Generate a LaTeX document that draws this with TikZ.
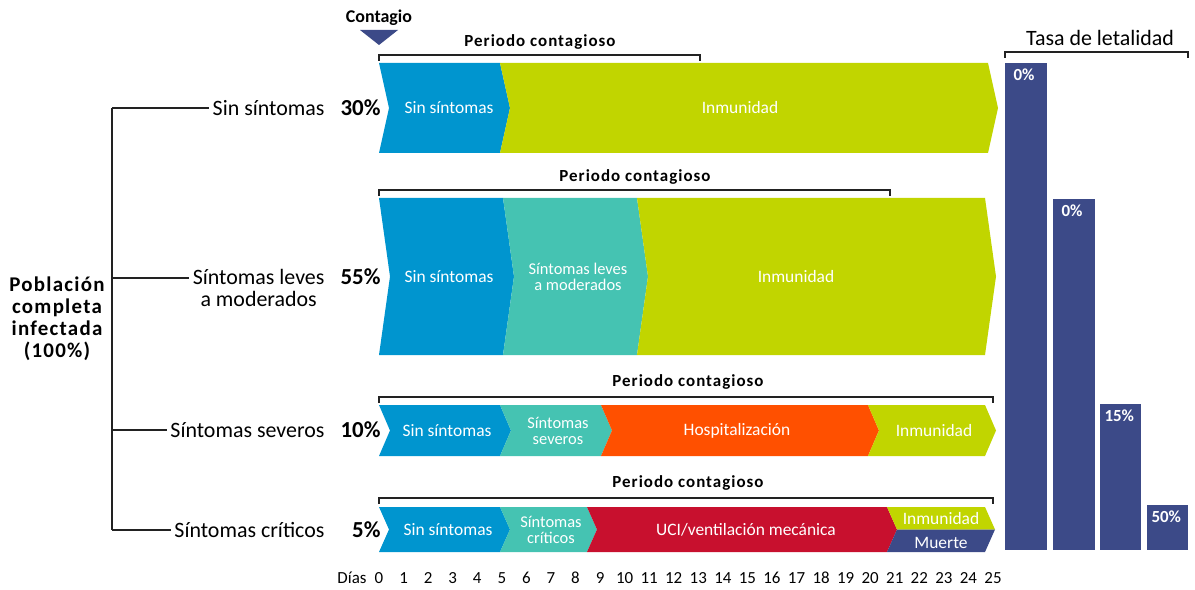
\documentclass[tikz,border=0pt]{standalone}
\usepackage{fontspec}
\setmainfont{Carlito}
\newfontfamily\espaciada[LetterSpace=6]{Carlito}
\usetikzlibrary{positioning}

\definecolor{azul}{HTML}{0095CF}
\definecolor{verde}{HTML}{C1D500}
\definecolor{turquesa}{HTML}{45C3B2}
\definecolor{naranja}{HTML}{FF5000}
\definecolor{rojo}{HTML}{C8102E}
\definecolor{marino}{HTML}{3C4A88}
\definecolor{linea}{HTML}{222222}

% tramo en flecha: x0, x1, arriba, abajo, punta, color
\newcommand{\flecha}[6]{%
  \fill[#6] (#1,#3) -- (#2,#3) -- ({#2+#5},{(#3+#4)/2}) -- (#2,#4)
    -- (#1,#4) -- ({#1+#5},{(#3+#4)/2}) -- cycle;}
% corchete: x0, x1, y
\newcommand{\corchete}[3]{%
  \draw[corchete] (#1,{#3+6}) -- (#1,#3) -- (#2,#3) -- (#2,{#3+6});}

\tikzset{
  corchete/.style={linea, line width=1.1pt},
  rama/.style={linea, line width=1.1pt},
  etiq/.style={anchor=east, font=\fontsize{22}{22}\selectfont, align=center},
  pct/.style={anchor=east, font=\bfseries\fontsize{23}{23}\selectfont},
  dentro/.style={text=white, font=\fontsize{17.5}{15}\selectfont, align=center},
  doble/.style={dentro, font=\fontsize{16.5}{16}\selectfont, inner sep=1pt},
  periodo/.style={font=\espaciada\bfseries\fontsize{17}{17}\selectfont},
  dia/.style={font=\fontsize{17}{17}\selectfont},
  tasa/.style={anchor=north west, text=white, font=\bfseries\fontsize{17}{17}\selectfont},
}

\begin{document}
\begin{tikzpicture}[x=1bp, y=-1bp]
  \useasboundingbox (0,0) rectangle (1195,590);

  % contagio
  \node[font=\bfseries\fontsize{18}{18}\selectfont] (contagio) at (379,18) {Contagio};
  \fill[marino] (360,30) -- (398,30) -- (379,45) -- cycle;

  % poblacion y ramas
  \node[font=\espaciada\bfseries\fontsize{21}{22}\selectfont, align=center] (pob) at (57,319)
    {Población\\completa\\infectada\\(100\%)};
  \coordinate (t1) at (112,108);
  \coordinate (t2) at (112,278);
  \coordinate (t3) at (112,430);
  \coordinate (t4) at (112,530);
  \node[etiq] (sin) at (328,108) {Sin síntomas};
  \node[etiq] (leves) at (328,288) {Síntomas leves\\a moderados};
  \node[etiq] (severos) at (328,430) {Síntomas severos};
  \node[etiq] (criticos) at (328,530) {Síntomas críticos};
  \node[pct] (p1) at (384,108) {30\%};
  \node[pct] (p2) at (384,277) {55\%};
  \node[pct] (p3) at (384,430) {10\%};
  \node[pct] (p4) at (384,530) {5\%};
  \draw[rama] (t1) -- (t4);
  \draw[rama] (t1) -- (sin.west);
  \draw[rama] (t2) -- (t2 -| leves.west);
  \draw[rama] (t3) -- (severos.west);
  \draw[rama] (t4) -- (criticos.west);

  % fila 1
  \flecha{379}{500}{63}{153}{10}{azul}
  \flecha{500}{988}{63}{153}{10}{verde}
  \node[dentro] (f1a) at (449,108) {Sin síntomas};
  \node[dentro] (f1b) at (740,108) {Inmunidad};
  \corchete{379}{700}{55}
  \node[periodo] (per1) at (540,42) {Periodo contagioso};

  % fila 2
  \flecha{379}{503}{198}{355}{11}{azul}
  \flecha{503}{637}{198}{355}{11}{turquesa}
  \flecha{637}{985}{198}{355}{11}{verde}
  \node[dentro] (f2a) at (449,277) {Sin síntomas};
  \node[doble] (f2b) at (578,277) {Síntomas leves\\a moderados};
  \node[dentro] (f2c) at (796,277) {Inmunidad};
  \corchete{379}{890}{190}
  \node[periodo] (per2) at (635,177) {Periodo contagioso};

  % fila 3
  \flecha{379}{500}{405}{456}{11}{azul}
  \flecha{500}{601}{405}{456}{11}{turquesa}
  \flecha{601}{868}{405}{456}{11}{naranja}
  \flecha{868}{985}{405}{456}{11}{verde}
  \node[dentro] (f3a) at (447,431) {Sin síntomas};
  \node[doble] (f3b) at (558,431) {Síntomas\\severos};
  \node[dentro] (f3c) at (737,431) {Hospitalización};
  \node[dentro] (f3d) at (934,431) {Inmunidad};
  \corchete{379}{993}{397}
  \node[periodo] (per3) at (688,382) {Periodo contagioso};

  % fila 4
  \flecha{379}{500}{507}{552}{10}{azul}
  \flecha{500}{587}{507}{552}{10}{turquesa}
  \flecha{587}{887}{507}{552}{10}{rojo}
  \fill[verde] (887,507) -- (985,507) -- (995,529.5) -- (897,529.5) -- cycle;
  \fill[marino] (897,529.5) -- (995,529.5) -- (985,552) -- (887,552) -- cycle;
  \node[dentro] (f4a) at (448,530) {Sin síntomas};
  \node[doble] (f4b) at (551,530) {Síntomas\\críticos};
  \node[dentro] (f4c) at (746,530) {UCI/ventilación mecánica};
  \node[dentro] (f4d) at (941,519) {Inmunidad};
  \node[dentro] (f4e) at (941,543) {Muerte};
  \corchete{379}{993}{498}
  \node[periodo] (per4) at (688,483) {Periodo contagioso};

  % dias
  \node[dia] (dias) at (352,578) {Días};
  \foreach \d in {0,...,25}
    \node[dia] (d\d) at ({379+24.56*\d},578) {\d};

  % tasa de letalidad
  \corchete{1005}{1188}{52}
  \node[font=\fontsize{22}{22}\selectfont] (tasa) at (1100,38) {Tasa de letalidad};
  \fill[marino] (1005,63) rectangle (1047,550);
  \fill[marino] (1053,199) rectangle (1095,550);
  \fill[marino] (1100,404) rectangle (1141,550);
  \fill[marino] (1147,505) rectangle (1188,550);
  \node[tasa] (b1) at (1010,65) {0\%};
  \node[tasa] (b2) at (1058,201) {0\%};
  \node[tasa] (b3) at (1101,406) {15\%};
  \node[tasa] (b4) at (1148,507) {50\%};
\end{tikzpicture}
\end{document}
